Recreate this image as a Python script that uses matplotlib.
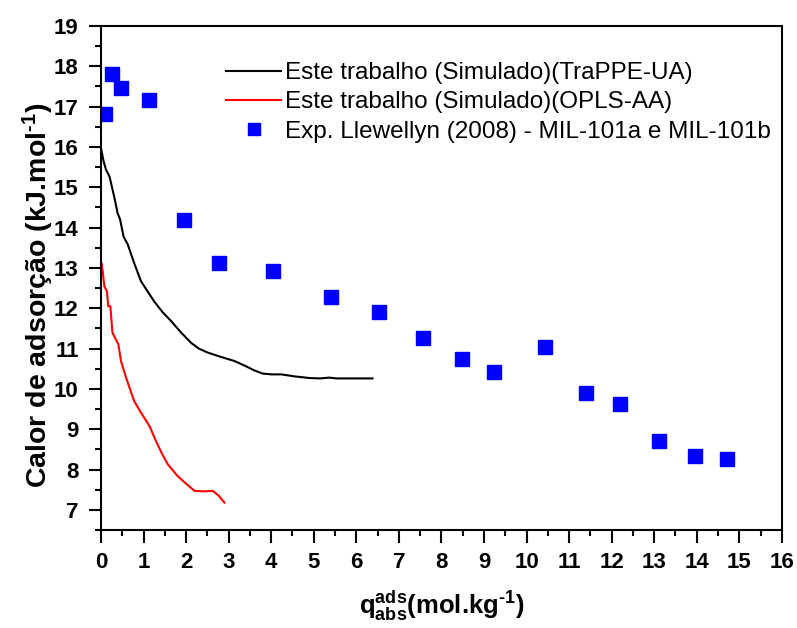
import matplotlib
matplotlib.use("Agg")
import matplotlib.pyplot as plt
from matplotlib.ticker import MultipleLocator

# Simulated curves
trappe_x = [0.0, 0.06, 0.12, 0.20, 0.31, 0.39, 0.45, 0.53, 0.63, 0.78, 0.94, 1.02,
            1.25, 1.45, 1.65, 1.88, 2.12, 2.30, 2.51, 2.80, 3.14, 3.41, 3.60, 3.80,
            4.0, 4.24, 4.55, 4.90, 5.15, 5.37, 5.53, 5.9, 6.38]
trappe_y = [15.97, 15.65, 15.43, 15.27, 14.77, 14.36, 14.20, 13.78, 13.58, 13.12,
            12.67, 12.54, 12.17, 11.90, 11.68, 11.40, 11.14, 11.00, 10.90, 10.80,
            10.69, 10.56, 10.46, 10.38, 10.36, 10.36, 10.31, 10.27, 10.26, 10.28,
            10.26, 10.26, 10.26]

opls_x = [0.0, 0.01, 0.04, 0.08, 0.14, 0.17, 0.22, 0.27, 0.35, 0.41, 0.47, 0.59,
          0.67, 0.78, 0.94, 1.14, 1.29, 1.43, 1.57, 1.80, 2.00, 2.20, 2.43, 2.63,
          2.76, 2.90]
opls_y = [12.90, 13.12, 12.92, 12.54, 12.42, 12.05, 12.05, 11.39, 11.23, 11.10,
          10.69, 10.28, 10.03, 9.70, 9.41, 9.08, 8.71, 8.40, 8.13, 7.84, 7.65,
          7.47, 7.46, 7.47, 7.36, 7.18]

# Experimental points, Llewellyn (2008)
exp_x = [0.10, 0.27, 0.48, 1.13, 1.94, 2.78, 4.04, 5.40, 6.53, 7.56, 8.48, 9.23,
         10.43, 11.40, 12.20, 13.11, 13.96, 14.71]
exp_y = [16.82, 17.81, 17.46, 17.17, 14.20, 13.12, 12.92, 12.27, 11.91, 11.27,
         10.73, 10.43, 11.05, 9.89, 9.62, 8.70, 8.33, 8.26]

labels = ["Este trabalho (Simulado)(TraPPE-UA)",
          "Este trabalho (Simulado)(OPLS-AA)",
          "Exp. Llewellyn (2008) - MIL-101a e MIL-101b"]

plt.rcParams["font.family"] = ["Liberation Sans", "DejaVu Sans"]
plt.rcParams["mathtext.fontset"] = "custom"
plt.rcParams["mathtext.bf"] = "Liberation Sans:bold"
plt.rcParams["mathtext.rm"] = "Liberation Sans:bold"
plt.rcParams["mathtext.it"] = "Liberation Sans:bold"
plt.rcParams["mathtext.default"] = "bf"

fig = plt.figure(figsize=(7.97, 6.28), dpi=100)
ax = fig.add_axes([0.1267, 0.156, 0.8543, 0.8026])

ax.plot(trappe_x, trappe_y, color="black", lw=1.5, label=labels[0])
ax.plot(opls_x, opls_y, color="red", lw=1.5, label=labels[1])
ax.plot(exp_x, exp_y, ls="none", marker="s", ms=10, color="#0000ff",
        mec="#0000ff", label=labels[2])

ax.set_xlim(0, 16)
ax.set_ylim(6.5, 19)
ax.xaxis.set_major_locator(MultipleLocator(1))
ax.xaxis.set_minor_locator(MultipleLocator(0.5))
ax.yaxis.set_major_locator(MultipleLocator(1))
ax.yaxis.set_minor_locator(MultipleLocator(0.5))
ax.tick_params(which="both", direction="out", width=1.5, top=False, right=False,
               labelsize=16)
ax.tick_params(which="major", length=9, pad=7)
ax.tick_params(which="minor", length=4)
for lab in ax.get_xticklabels() + ax.get_yticklabels():
    lab.set_fontweight("bold")
for sp in ax.spines.values():
    sp.set_linewidth(1.5)

ax.set_ylabel("Calor de adsorção (kJ.mol$^{\\text{-}1}$)", fontsize=20.5,
              fontweight="bold")
ax.yaxis.set_label_coords(-0.066, 0.466)
ax.set_xlabel("q$^{ads}_{abs}$(mol.kg$^{\\text{-}1}$)",
              fontsize=18.5, fontweight="bold", labelpad=11)

ax.legend(loc="upper left", bbox_to_anchor=(0.158, 0.962), frameon=False,
          fontsize=17.5, handlelength=2.3, handletextpad=0.15, labelspacing=0.3,
          markerscale=0.8, borderpad=0.2)

fig.savefig("out.png", dpi=100)
